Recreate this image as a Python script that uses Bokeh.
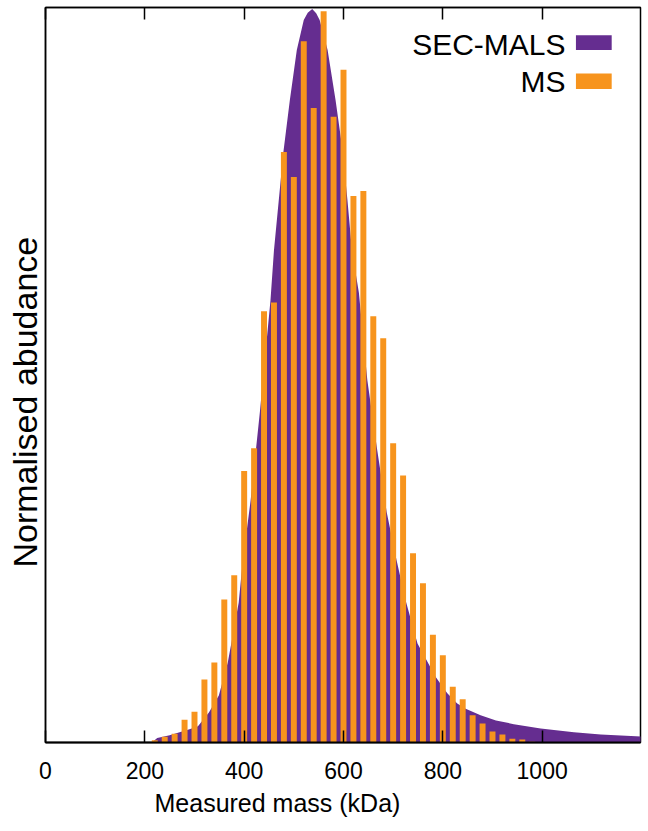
from bokeh.plotting import figure
from bokeh.models import (Range1d, LinearAxis, FixedTicker, Title, Label, BoxAnnotation,
                          CustomLabelingPolicy)
from bokeh.embed import file_html
from bokeh.resources import INLINE

# ---------------- data ----------------
# SEC-MALS mass distribution (kDa, normalised abundance)
mals_mass = [214, 225, 250, 270, 290, 307, 329, 349, 367, 379, 389, 397, 413, 432,
             453, 460, 479, 492, 506, 520, 528, 537, 545, 552, 568, 584, 598, 608,
             617, 631, 648, 668, 687, 707, 725, 749, 786, 809, 829, 846, 876, 907,
             943, 997, 1064, 1118, 1200]
mals_abund = [0.000, 0.006, 0.010, 0.014, 0.018, 0.022, 0.041, 0.064, 0.109, 0.153,
              0.191, 0.246, 0.330, 0.453, 0.603, 0.671, 0.805, 0.876, 0.944, 0.985,
              0.995, 1.000, 0.994, 0.985, 0.944, 0.876, 0.808, 0.739, 0.671, 0.613,
              0.494, 0.398, 0.314, 0.248, 0.194, 0.135, 0.089, 0.067, 0.053, 0.046,
              0.037, 0.030, 0.025, 0.019, 0.014, 0.011, 0.008]

# MS mass histogram (bin centre kDa, normalised abundance)
ms_mass = [220, 240, 260, 280, 300, 320, 340, 360, 380, 400, 420, 440, 460, 480,
           500, 520, 540, 560, 580, 600, 620, 640, 660, 680, 700, 720, 740, 760,
           780, 800, 820, 840, 860, 880, 900, 920, 940, 960, 980]
ms_abund = [0.003, 0.008, 0.012, 0.031, 0.042, 0.086, 0.109, 0.195, 0.228, 0.370,
            0.401, 0.588, 0.600, 0.805, 0.771, 0.956, 0.865, 0.997, 0.853, 0.917,
            0.745, 0.752, 0.581, 0.551, 0.408, 0.364, 0.258, 0.217, 0.147, 0.119,
            0.076, 0.059, 0.037, 0.026, 0.015, 0.011, 0.005, 0.004, 0.001]

x_ticks = [0, 200, 400, 600, 800, 1000]
series_names = ["SEC-MALS", "MS"]

# ---------------- style ----------------
PURPLE = "#652d90"
ORANGE = "#f7941d"
FONT = "Liberation Sans"
BAR_WIDTH = 12

p = figure(frame_width=595, frame_height=735,
           x_range=Range1d(0, 1198), y_range=Range1d(0, 1.002),
           output_backend="svg", toolbar_location=None,
           min_border_left=45, min_border_right=3, min_border_top=7, min_border_bottom=0)
p.grid.visible = False
p.outline_line_color = "black"
p.outline_line_width = 1.5
p.background_fill_color = "white"
p.border_fill_color = "white"

p.varea(x=mals_mass, y1=0, y2=mals_abund, fill_color=PURPLE, fill_alpha=1.0)
p.vbar(x=ms_mass, top=ms_abund, width=BAR_WIDTH, fill_color=ORANGE, line_color=None)

# bottom axis
xa = p.xaxis[0]
xa.ticker = FixedTicker(ticks=x_ticks)
xa.major_tick_in = 12
xa.major_tick_out = 0
xa.minor_tick_in = 0
xa.minor_tick_out = 0
xa.axis_line_width = 2
xa.major_tick_line_width = 1.5
xa.major_label_text_font = FONT
xa.major_label_text_font_size = "23px"
xa.major_label_text_color = "black"
xa.major_label_standoff = 19

# top axis (ticks only, no labels drawn)
no_labels = CustomLabelingPolicy(code="""
    for (const i of indices) { indices.unset(i) }
    return indices
""")
top = LinearAxis(ticker=FixedTicker(ticks=x_ticks), major_tick_in=12, major_tick_out=0,
                 minor_tick_in=0, minor_tick_out=0, major_label_policy=no_labels,
                 major_label_text_font_size="1px",
                 major_label_standoff=0, axis_line_width=1.5, major_tick_line_width=1.5)
p.add_layout(top, "above")

# left axis (line only)
ya = p.yaxis[0]
ya.ticker = FixedTicker(ticks=[])
ya.major_tick_out = 0
ya.major_tick_in = 0
ya.minor_tick_in = 0
ya.minor_tick_out = 0
ya.major_label_standoff = 0
ya.axis_line_width = 1.5

# y label (placed a bit below centre like the reference)
p.add_layout(Title(text="Normalised abudance", align="left", offset=175,
                   text_font=FONT, text_font_size="34px", text_font_style="normal",
                   text_color="black", standoff=4), "left")

# x label (offset like the reference)
p.add_layout(Title(text="Measured mass (kDa)", align="left", offset=109,
                   text_font=FONT, text_font_size="25px", text_font_style="normal",
                   text_color="black", standoff=10), "below")

# legend: label on the left, swatch on the right
legend_rows = [(series_names[0], PURPLE, 0.951, 0.944, 0.964),
               (series_names[1], ORANGE, 0.901, 0.891, 0.912)]
for name, col, yt, yb, ytop in legend_rows:
    p.add_layout(Label(x=1047, y=yt, text=name, text_align="right", text_baseline="middle",
                       text_font=FONT, text_font_size="30px", text_color="black"))
    p.add_layout(BoxAnnotation(left=1068, right=1140, bottom=yb, top=ytop,
                               fill_color=col, fill_alpha=1.0, line_color=None))

open("out.html", "w").write(file_html(p, INLINE))
